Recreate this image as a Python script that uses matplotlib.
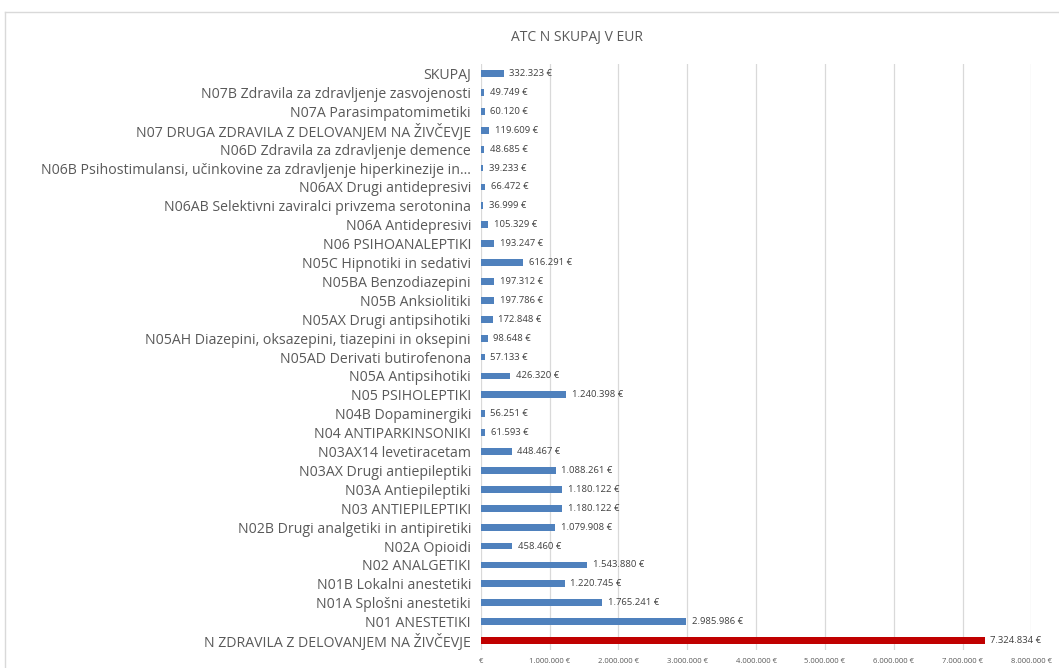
import matplotlib.pyplot as plt
from matplotlib.lines import Line2D
from matplotlib.ticker import FuncFormatter

# categories from top to bottom as shown in the chart
categories = [
    "SKUPAJ",
    "N07B Zdravila za zdravljenje zasvojenosti",
    "N07A Parasimpatomimetiki",
    "N07 DRUGA ZDRAVILA Z DELOVANJEM NA ŽIVČEVJE",
    "N06D Zdravila za zdravljenje demence",
    "N06B Psihostimulansi, učinkovine za zdravljenje hiperkinezije in...",
    "N06AX Drugi antidepresivi",
    "N06AB Selektivni zaviralci privzema serotonina",
    "N06A Antidepresivi",
    "N06 PSIHOANALEPTIKI",
    "N05C Hipnotiki in sedativi",
    "N05BA Benzodiazepini",
    "N05B Anksiolitiki",
    "N05AX Drugi antipsihotiki",
    "N05AH Diazepini, oksazepini, tiazepini in oksepini",
    "N05AD Derivati butirofenona",
    "N05A Antipsihotiki",
    "N05 PSIHOLEPTIKI",
    "N04B Dopaminergiki",
    "N04 ANTIPARKINSONIKI",
    "N03AX14 levetiracetam",
    "N03AX Drugi antiepileptiki",
    "N03A Antiepileptiki",
    "N03 ANTIEPILEPTIKI",
    "N02B Drugi analgetiki in antipiretiki",
    "N02A Opioidi",
    "N02 ANALGETIKI",
    "N01B Lokalni anestetiki",
    "N01A Splošni anestetiki",
    "N01 ANESTETIKI",
    "N ZDRAVILA Z DELOVANJEM NA ŽIVČEVJE",
]
values = [
    332323, 49749, 60120, 119609, 48685, 39233, 66472, 36999, 105329, 193247,
    616291, 197312, 197786, 172848, 98648, 57133, 426320, 1240398, 56251, 61593,
    448467, 1088261, 1180122, 1180122, 1079908, 458460, 1543880, 1220745,
    1765241, 2985986, 7324834,
]
highlight = "N ZDRAVILA Z DELOVANJEM NA ŽIVČEVJE"
x_ticks = [0, 1000000, 2000000, 3000000, 4000000, 5000000, 6000000, 7000000, 8000000]


def eur(v):
    return f"{v:,.0f}".replace(",", ".") + " €"


plt.rcParams['font.family'] = ['Open Sans', 'DejaVu Sans']

fig = plt.figure(figsize=(10.59, 6.68), dpi=100)
ax = fig.add_axes([0.454, 0.027, 0.520, 0.877])

n = len(categories)
ypos = [n - 1 - i for i in range(n)]
colors = ["#C00000" if c == highlight else "#4F81BD" for c in categories]
ax.barh(ypos, values, height=0.36, color=colors, zorder=3)

for y, v in zip(ypos, values):
    ax.text(v + 80000, y, eur(v), va="center", ha="left",
            fontsize=6.8, color="#404040")

ax.set_xlim(0, 8000000)
ax.set_ylim(-0.5, n - 0.5)
ax.set_yticks(ypos)
ax.set_yticklabels(categories, fontsize=10.2, color="#595959")
ax.set_xticks(x_ticks)
ax.xaxis.set_major_formatter(FuncFormatter(lambda v, p: "€" if v == 0 else eur(v)))
ax.tick_params(axis="x", labelsize=5.5, labelcolor="#595959", length=0, pad=6)
ax.tick_params(axis="y", length=0, pad=7)
ax.grid(axis="x", color="#D9D9D9", linewidth=0.9, zorder=0)
for s in ax.spines.values():
    s.set_visible(False)

fig.text(0.545, 0.944, "ATC N SKUPAJ V EUR", ha="center", va="center",
         fontsize=10, color="#595959")

# chart area frame (left and top edges visible)
fig.add_artist(Line2D([5 / 1059, 5 / 1059], [0, 1 - 12 / 668], color="#D9D9D9", lw=1))
fig.add_artist(Line2D([5 / 1059, 1], [1 - 12 / 668, 1 - 12 / 668], color="#D9D9D9", lw=1))

fig.savefig("out.png", dpi=100)
